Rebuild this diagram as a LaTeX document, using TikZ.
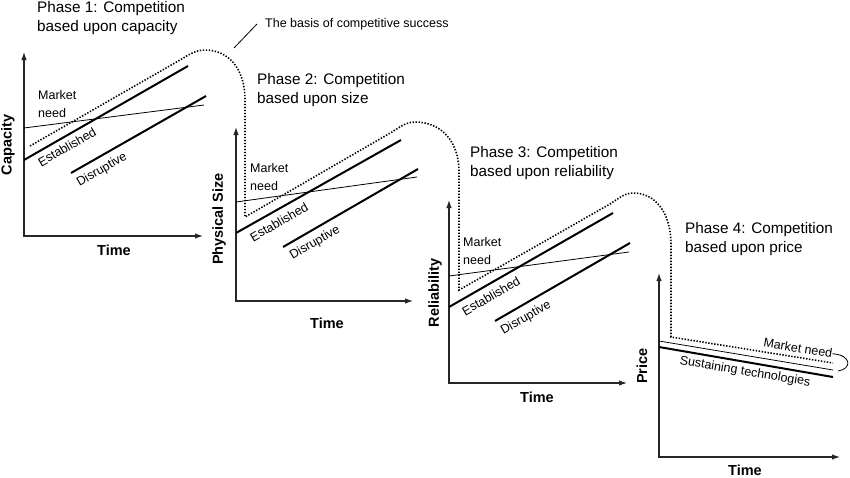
\documentclass[tikz,border=0pt]{standalone}
\usepackage{fontspec}
\setmainfont{Liberation Sans}
\usetikzlibrary{arrows.meta,positioning}
\begin{document}
\begin{tikzpicture}[x=1pt,y=-1pt,
    axis/.style={line width=1.1pt,black!85,{Latex[length=8pt,width=5.5pt]}-{Latex[length=8pt,width=5.5pt]}},
    tech/.style={line width=2pt},
    need/.style={line width=0.8pt},
    basis/.style={line width=1.6pt,dash pattern=on 1.4pt off 1.6pt},
    phase/.style={align=left,anchor=north west,inner sep=0pt,font=\fontsize{15.3}{19.5}\selectfont},
    axlabel/.style={inner sep=0pt,font=\fontsize{14.5}{17}\selectfont\bfseries},
    lbl/.style={inner sep=0pt,font=\fontsize{12.5}{18}\selectfont}]
    \useasboundingbox (0,0) rectangle (850,477);
    % phase titles
    \node[phase] (P1) at (37,1) {Phase 1: Competition\\based upon capacity};
    \node[phase] (P2) at (257,73) {Phase 2: Competition\\based upon size};
    \node[phase] (P3) at (470,146) {Phase 3: Competition\\based upon reliability};
    \node[phase] (P4) at (685,222) {Phase 4: Competition\\based upon price};
    % axes
    \coordinate (O1) at (24,236); \coordinate (Y1) at (24,52); \coordinate (X1) at (203,236);
    \coordinate (O2) at (236,301); \coordinate (Y2) at (236,127); \coordinate (X2) at (413,301);
    \coordinate (O3) at (449,383); \coordinate (Y3) at (449,200); \coordinate (X3) at (627,383);
    \coordinate (O4) at (659,457); \coordinate (Y4) at (659,273); \coordinate (X4) at (840,457);
    \draw[axis] (Y1) -- (O1) -- (X1);
    \draw[axis] (Y2) -- (O2) -- (X2);
    \draw[axis] (Y3) -- (O3) -- (X3);
    \draw[axis] (Y4) -- (O4) -- (X4);
    \node[axlabel,rotate=90] (C1) at (8,145) {Capacity};
    \node[axlabel] (T1) at (114,250) {Time};
    \node[axlabel,rotate=90] (C2) at (219,219) {Physical Size};
    \node[axlabel] (T2) at (327,323) {Time};
    \node[axlabel,rotate=90] (C3) at (435,293) {Reliability};
    \node[axlabel] (T3) at (537,397) {Time};
    \node[axlabel,rotate=90] (C4) at (642,366) {Price};
    \node[axlabel] (T4) at (745,470) {Time};
    % market need, established and disruptive
    \coordinate (M1a) at (24,128); \coordinate (M1b) at (204,105);
    \coordinate (E1a) at (24,160); \coordinate (E1b) at (188,66);
    \coordinate (D1a) at (71,173); \coordinate (D1b) at (206,96);
    \coordinate (M2a) at (236,202); \coordinate (M2b) at (417,177);
    \coordinate (E2a) at (236,233); \coordinate (E2b) at (401,140);
    \coordinate (D2a) at (283,247); \coordinate (D2b) at (418,169);
    \coordinate (M3a) at (449,276); \coordinate (M3b) at (629,252);
    \coordinate (E3a) at (449,307); \coordinate (E3b) at (613,213);
    \coordinate (D3a) at (495,321); \coordinate (D3b) at (630,243);
    \coordinate (M4a) at (659,341); \coordinate (M4b) at (833,370);
    \coordinate (S4a) at (659,347); \coordinate (S4b) at (833,377);
    \draw[need] (M1a) -- (M1b);
    \draw[tech] (E1a) -- (E1b);
    \draw[tech] (D1a) -- (D1b);
    \draw[need] (M2a) -- (M2b);
    \draw[tech] (E2a) -- (E2b);
    \draw[tech] (D2a) -- (D2b);
    \draw[need] (M3a) -- (M3b);
    \draw[tech] (E3a) -- (E3b);
    \draw[tech] (D3a) -- (D3b);
    \draw[need] (M4a) -- (M4b);
    \draw[tech] (S4a) -- (S4b);
    \node[lbl,align=left,anchor=west] (N1) at (38,104) {Market\\ need};
    \node[lbl,rotate=30] (L1) at (67,147) {Established};
    \node[lbl,rotate=30] (R1) at (102,170) {Disruptive};
    \node[lbl,align=left,anchor=west] (N2) at (250,177) {Market\\ need};
    \node[lbl,rotate=30] (L2) at (279,222) {Established};
    \node[lbl,rotate=30] (R2) at (315,243) {Disruptive};
    \node[lbl,align=left,anchor=west] (N3) at (463,251) {Market\\ need};
    \node[lbl,rotate=30] (L3) at (491,296) {Established};
    \node[lbl,rotate=30] (R3) at (526,318) {Disruptive};
    \node[lbl,rotate=-9.5] (N4) at (798,348) {Market need};
    \node[lbl,rotate=-9.5] (S4) at (745,372) {Sustaining technologies};
    \coordinate (B4) at (838,371);
    \draw[need] (N4.east) .. controls (852,355) and (852,369) .. (B4);
    % the basis of competitive success
    \draw[basis] (30,146) -- (180,60) .. controls (190,54) and (196,50) .. (205,50)
        .. controls (228,50) and (245,68) .. (245,100) -- (245,217)
        -- (392,132) .. controls (401,126) and (407,122) .. (415,122)
        .. controls (440,122) and (459,140) .. (459,172) -- (459,290)
        -- (610,204) .. controls (619,198) and (625,193) .. (633,193)
        .. controls (655,193) and (671,212) .. (671,245) -- (671,337) -- (833,363);
    \coordinate (K1) at (234,48);
    \coordinate (K2) at (257,24);
    \draw[need] (K1) -- (K2);
    \node[lbl,anchor=west,right=8pt of K2] (BT) {The basis of competitive success};
\end{tikzpicture}
\end{document}
